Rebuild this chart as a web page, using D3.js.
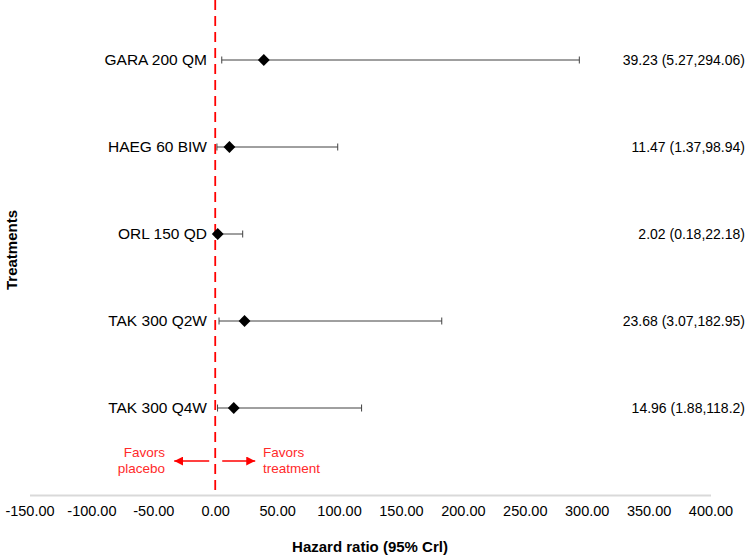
<!DOCTYPE html>
<html><head><meta charset="utf-8">
<script src="https://cdn.jsdelivr.net/npm/d3@7"></script>
<style>body{margin:0;background:#fff}svg{display:block}text{font-family:"Liberation Sans",Arial,sans-serif}</style>
</head><body>
<script>
const treatments = ["GARA 200 QM","HAEG 60 BIW","ORL 150 QD","TAK 300 Q2W","TAK 300 Q4W"];
const hr = [39.23, 11.47, 2.02, 23.68, 14.96];
const lower = [5.27, 1.37, 0.18, 3.07, 1.88];
const upper = [294.06, 98.94, 22.18, 182.95, 118.2];
const labels = ["39.23 (5.27,294.06)","11.47 (1.37,98.94)","2.02 (0.18,22.18)","23.68 (3.07,182.95)","14.96 (1.88,118.2)"];
const xTicks = [-150,-100,-50,0,50,100,150,200,250,300,350,400];

const W = 749, H = 560;
const svg = d3.select("body").append("svg").attr("width", W).attr("height", H);
const x = d3.scaleLinear().domain([-150, 400]).range([29.5, 710.5]);
const y = d3.scalePoint().domain(treatments).range([60, 408]);
const axisY = 495;

// x axis
const ax = svg.append("g").attr("transform", `translate(0,${axisY})`)
  .call(d3.axisBottom(x).tickValues(xTicks).tickFormat(d => d.toFixed(2)).tickSize(0).tickPadding(11));
ax.select(".domain").attr("stroke", "#d9d9d9").attr("stroke-width", 2);
ax.selectAll("text").attr("font-size", 14.5).attr("fill", "#000")
  .attr("font-family", '"Liberation Sans",Arial,sans-serif');

// red reference line
svg.append("line").attr("x1", x(0)).attr("x2", x(0)).attr("y1", 0).attr("y2", axisY)
  .attr("stroke", "#ff0000").attr("stroke-width", 1.8).attr("stroke-dasharray", "10,6");

// error bars
const rows = svg.append("g").selectAll("g").data(treatments).join("g")
  .attr("transform", d => `translate(0,${y(d)})`);
rows.append("line").attr("x1", (d,i) => x(lower[i])).attr("x2", (d,i) => x(upper[i]))
  .attr("stroke", "#404040").attr("stroke-width", 1);
rows.append("line").attr("x1", (d,i) => x(lower[i])).attr("x2", (d,i) => x(lower[i]))
  .attr("y1", -3.5).attr("y2", 3.5).attr("stroke", "#404040");
rows.append("line").attr("x1", (d,i) => x(upper[i])).attr("x2", (d,i) => x(upper[i]))
  .attr("y1", -3.5).attr("y2", 3.5).attr("stroke", "#404040");
rows.append("path").attr("d", d3.symbol(d3.symbolSquare, 70)())
  .attr("transform", (d,i) => `translate(${x(hr[i])},0) rotate(45)`).attr("fill", "#000");
rows.append("text").attr("x", 207).attr("dy", "0.35em").attr("text-anchor", "end")
  .attr("font-size", 15.5).text(d => d);
rows.append("text").attr("x", 745).attr("dy", "0.35em").attr("text-anchor", "end")
  .attr("font-size", 14).text((d,i) => labels[i]);

// favors annotations
const defs = svg.append("defs");
defs.append("marker").attr("id", "arr").attr("viewBox", "0 0 10 10").attr("refX", 10).attr("refY", 5)
  .attr("markerWidth", 9).attr("markerHeight", 9).attr("markerUnits", "userSpaceOnUse").attr("orient", "auto")
  .append("path").attr("d", "M0,0L10,5L0,10Z").attr("fill", "#ff0000");
const ay = 461;
svg.append("line").attr("x1", x(0) - 6).attr("x2", x(0) - 41).attr("y1", ay).attr("y2", ay)
  .attr("stroke", "#ff0000").attr("stroke-width", 1.3).attr("marker-end", "url(#arr)");
svg.append("line").attr("x1", x(0) + 7).attr("x2", x(0) + 40).attr("y1", ay).attr("y2", ay)
  .attr("stroke", "#ff0000").attr("stroke-width", 1.3).attr("marker-end", "url(#arr)");
const lt = svg.append("text").attr("text-anchor", "end").attr("font-size", 13.5).attr("fill", "#ff2a2a");
lt.append("tspan").attr("x", 165).attr("y", 457).text("Favors");
lt.append("tspan").attr("x", 165).attr("y", 473).text("placebo");
const rt = svg.append("text").attr("text-anchor", "start").attr("font-size", 13.5).attr("fill", "#ff2a2a");
rt.append("tspan").attr("x", 263).attr("y", 457).text("Favors");
rt.append("tspan").attr("x", 263).attr("y", 473).text("treatment");

// axis titles
svg.append("text").attr("x", 370).attr("y", 552).attr("text-anchor", "middle")
  .attr("font-size", 15).attr("font-weight", "bold").text("Hazard ratio (95% Crl)");
svg.append("text").attr("transform", "translate(17,250) rotate(-90)").attr("text-anchor", "middle")
  .attr("font-size", 15).attr("font-weight", "bold").text("Treatments");
</script>
</body></html>
